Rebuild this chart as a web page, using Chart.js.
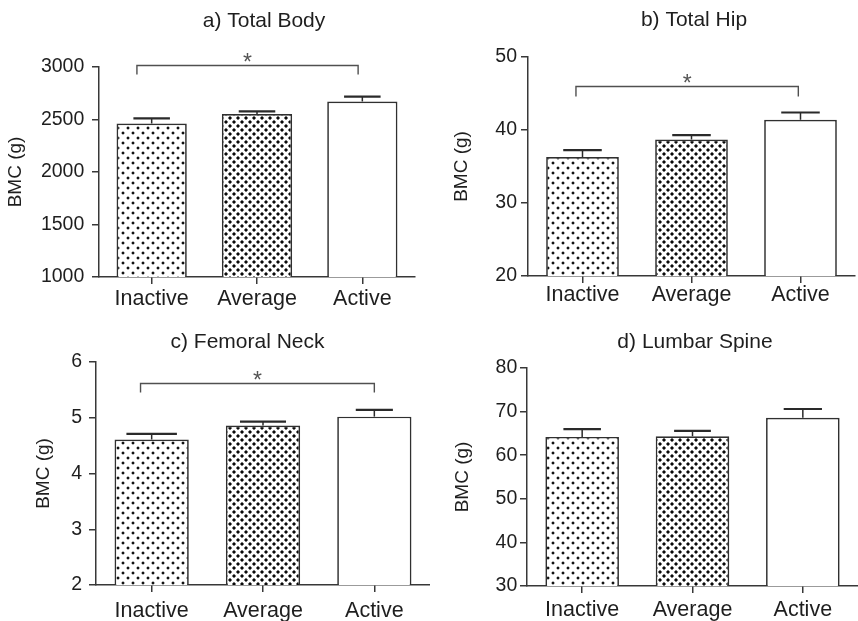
<!DOCTYPE html>
<html>
<head>
<meta charset="utf-8">
<script src="https://cdn.jsdelivr.net/npm/chart.js@4.4.1/dist/chart.umd.min.js"></script>
<style>
  html, body { margin: 0; padding: 0; background: #ffffff; }
  #wrap { position: relative; width: 858px; height: 621px; overflow: hidden; background: #ffffff; }
  #wrap canvas { position: absolute; }
</style>
</head>
<body>
<div id="wrap">
  <canvas id="panelA" width="430" height="310" style="left:0px;top:0px;width:430px;height:310px"></canvas>
  <canvas id="panelB" width="428" height="310" style="left:430px;top:0px;width:428px;height:310px"></canvas>
  <canvas id="panelC" width="430" height="311" style="left:0px;top:310px;width:430px;height:311px"></canvas>
  <canvas id="panelD" width="428" height="311" style="left:430px;top:310px;width:428px;height:311px"></canvas>
</div>
<script>
// ---- data ----
const groups = ['Inactive', 'Average', 'Active'];
const panelTitles = ['a) Total Body', 'b) Total Hip', 'c) Femoral Neck', 'd) Lumbar Spine'];
const yAxisLabel = 'BMC (g)';
const sigMark = '*';

const totalBodyMean = [2462, 2552, 2672];
const totalBodySem  = [48, 25, 45];
const totalHipMean  = [36.3, 38.7, 41.4];
const totalHipSem   = [0.95, 0.6, 1.0];
const femNeckMean   = [4.61, 4.86, 5.02];
const femNeckSem    = [0.10, 0.07, 0.12];
const lumbarMean    = [64.2, 64.35, 68.6];
const lumbarSem     = [1.8, 1.25, 2.0];

const totalBodyTicks = [1000, 1500, 2000, 2500, 3000];
const totalHipTicks  = [20, 30, 40, 50];
const femNeckTicks   = [2, 3, 4, 5, 6];
const lumbarTicks    = [30, 40, 50, 60, 70, 80];

// significant pairs: [group from, group to, bracket level]
const totalBodySig = [[0, 2, 3022]];
const totalHipSig  = [[0, 2, 46.0]];
const femNeckSig   = [[0, 2, 5.62]];
const lumbarSig    = [];

// ---- styling ----
const FONT = '"Liberation Sans", Arial, Helvetica, sans-serif';
const TEXT = '#1e1e1e';
const LINE = '#383838';

function dotPattern(ctx, kind) {
  const t = document.createElement('canvas');
  const g = t.getContext('2d');
  if (kind === 'sparse') {
    t.width = 10; t.height = 10;
    g.fillStyle = '#ffffff'; g.fillRect(0, 0, 10, 10);
    const dot = (x, y) => {
      g.fillStyle = '#b8b8b8';
      g.fillRect(x - 1, y, 1, 2); g.fillRect(x + 2, y, 1, 2);
      g.fillRect(x, y - 1, 2, 1); g.fillRect(x, y + 2, 2, 1);
      g.fillStyle = '#111111';
      g.fillRect(x, y, 2, 2);
    };
    dot(2, 2); dot(7, 7);
  } else {
    t.width = 8; t.height = 8;
    g.fillStyle = '#ffffff'; g.fillRect(0, 0, 8, 8);
    const dot = (x, y) => {
      g.fillStyle = '#7a7a7a';
      g.fillRect(x - 1, y, 1, 2); g.fillRect(x + 2, y, 1, 2);
      g.fillRect(x, y - 1, 2, 1); g.fillRect(x, y + 2, 2, 1);
      g.fillStyle = '#0a0a0a';
      g.fillRect(x, y, 2, 2);
    };
    dot(1, 1); dot(5, 5);
  }
  return ctx.createPattern(t, 'repeat');
}

// upper error whiskers with caps
function errorBarPlugin(cfg) {
  return {
    id: 'errorBars',
    afterDatasetsDraw(chart) {
      const ctx = chart.ctx;
      const ys = chart.scales.y;
      const meta = chart.getDatasetMeta(0);
      meta.data.forEach((bar, i) => {
        const mean = chart.data.datasets[0].data[i];
        const top = ys.getPixelForValue(mean + cfg.sems[i]);
        const half = bar.width * cfg.caps[i] / 2;
        ctx.save();
        ctx.strokeStyle = '#2a2a2a';
        ctx.lineWidth = 1.5;
        ctx.beginPath();
        ctx.moveTo(bar.x, bar.y);
        ctx.lineTo(bar.x, top);
        ctx.stroke();
        ctx.lineWidth = 2.2;
        ctx.beginPath();
        ctx.moveTo(bar.x - half, top);
        ctx.lineTo(bar.x + half, top);
        ctx.stroke();
        ctx.restore();
      });
    }
  };
}

// significance brackets with asterisk
function bracketPlugin(cfg) {
  return {
    id: 'sigBrackets',
    afterDraw(chart) {
      const ctx = chart.ctx;
      const xs = chart.scales.x, ys = chart.scales.y;
      const band = xs.getPixelForValue(1) - xs.getPixelForValue(0);
      cfg.sig.forEach(([a, b, level]) => {
        const x1 = xs.getPixelForValue(a) + cfg.sigShift[0] * band;
        const x2 = xs.getPixelForValue(b) + cfg.sigShift[1] * band;
        const y = Math.round(ys.getPixelForValue(level)) + 0.5;
        ctx.save();
        ctx.strokeStyle = '#505050';
        ctx.lineWidth = 1.4;
        ctx.beginPath();
        ctx.moveTo(x1, y + cfg.sigDrop);
        ctx.lineTo(x1, y);
        ctx.lineTo(x2, y);
        ctx.lineTo(x2, y + cfg.sigDrop);
        ctx.stroke();
        ctx.font = '23px ' + FONT;
        ctx.fillStyle = '#555555';
        ctx.textAlign = 'center';
        ctx.textBaseline = 'alphabetic';
        const m = ctx.measureText(sigMark);
        const glyphMid = (m.actualBoundingBoxAscent - m.actualBoundingBoxDescent) / 2;
        ctx.fillText(sigMark, (x1 + x2) / 2, y - 8 + glyphMid);
        ctx.restore();
      });
    }
  };
}

function titlePlugin(cfg) {
  return {
    id: 'panelTitle',
    afterDraw(chart) {
      const ctx = chart.ctx;
      ctx.save();
      ctx.font = '21px ' + FONT;
      ctx.fillStyle = TEXT;
      ctx.textAlign = 'center';
      ctx.textBaseline = 'alphabetic';
      ctx.fillText(cfg.title, cfg.titleX, cfg.titleBase);
      ctx.restore();
    }
  };
}

function buildPanel(cfg) {
  const canvas = document.getElementById(cfg.canvasId);
  const ctx = canvas.getContext('2d');
  const fills = [dotPattern(ctx, 'sparse'), dotPattern(ctx, 'dense'), '#ffffff'];
  const tickVals = cfg.ticks;
  return new Chart(canvas, {
    type: 'bar',
    data: {
      labels: groups,
      datasets: [{
        data: cfg.means,
        backgroundColor: fills,
        borderColor: '#303030',
        borderWidth: 1.7,
        borderSkipped: 'start',
        categoryPercentage: 1,
        barPercentage: 0.667
      }]
    },
    options: {
      responsive: false,
      animation: false,
      devicePixelRatio: 1,
      events: [],
      layout: { padding: cfg.pad },
      plugins: { legend: { display: false }, tooltip: { enabled: false }, title: { display: false } },
      scales: {
        x: {
          offset: true,
          grid: { offset: false, drawOnChartArea: false, drawTicks: true, tickLength: 7, color: LINE, lineWidth: 1.5 },
          border: { display: true, color: LINE, width: 1.5 },
          ticks: { font: { family: FONT, size: 21.5 }, color: TEXT, padding: cfg.xTickPad, maxRotation: 0, autoSkip: false },
          afterFit: s => { s.height = cfg.xH; }
        },
        y: {
          min: tickVals[0],
          max: tickVals[tickVals.length - 1],
          afterBuildTicks: s => { s.ticks = tickVals.map(v => ({ value: v })); },
          grid: { drawOnChartArea: false, drawTicks: true, tickLength: 7, color: LINE, lineWidth: 1.5 },
          border: { display: true, color: LINE, width: 1.5 },
          ticks: { font: { family: FONT, size: 19.5 }, color: TEXT, padding: cfg.yTickPad, callback: v => String(v) },
          title: { display: true, text: yAxisLabel, font: { family: FONT, size: 19 }, color: TEXT, padding: { top: cfg.yTitlePad, bottom: 0 } },
          afterFit: s => { s.width = cfg.yW; }
        }
      }
    },
    plugins: [errorBarPlugin(cfg), bracketPlugin(cfg), titlePlugin(cfg)]
  });
}

buildPanel({
  canvasId: 'panelA', title: panelTitles[0], means: totalBodyMean, sems: totalBodySem,
  ticks: totalBodyTicks, sig: totalBodySig,
  pad: { left: 0, right: 15, top: 67, bottom: 0 }, yW: 99, xH: 33,
  xTickPad: 2.2, yTickPad: 7.7, yTitlePad: 4.8,
  titleX: 264, titleBase: 26.7, caps: [0.52, 0.52, 0.52], sigShift: [-0.14, -0.04], sigDrop: 9
});
buildPanel({
  canvasId: 'panelB', title: panelTitles[1], means: totalHipMean, sems: totalHipSem,
  ticks: totalHipTicks, sig: totalHipSig,
  pad: { left: 0, right: 3, top: 57, bottom: 0 }, yW: 98, xH: 34,
  xTickPad: -0.5, yTickPad: 4, yTitlePad: 20.8,
  titleX: 264, titleBase: 26, caps: [0.53, 0.53, 0.53], sigShift: [-0.06, -0.02], sigDrop: 10
});
buildPanel({
  canvasId: 'panelC', title: panelTitles[2], means: femNeckMean, sems: femNeckSem,
  ticks: femNeckTicks, sig: femNeckSig,
  pad: { left: 0, right: 0, top: 52, bottom: 0 }, yW: 96, xH: 36,
  xTickPad: 6.5, yTickPad: 7, yTitlePad: 31.9,
  titleX: 247.5, titleBase: 38.3, caps: [0.68, 0.62, 0.5], sigShift: [-0.10, 0.0], sigDrop: 9
});
buildPanel({
  canvasId: 'panelD', title: panelTitles[3], means: lumbarMean, sems: lumbarSem,
  ticks: lumbarTicks, sig: lumbarSig,
  pad: { left: 0, right: 0, top: 58, bottom: 0 }, yW: 97, xH: 35,
  xTickPad: 4.5, yTickPad: 2.7, yTitlePad: 21.1,
  titleX: 265, titleBase: 38.3, caps: [0.51, 0.5, 0.52], sigShift: [0, 0], sigDrop: 9
});
</script>
</body>
</html>
